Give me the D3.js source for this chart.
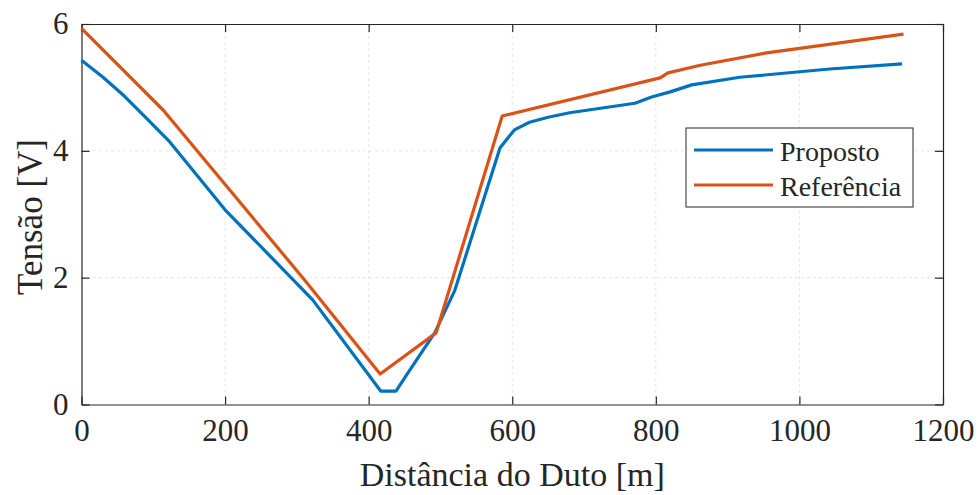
<!DOCTYPE html>
<html>
<head>
<meta charset="utf-8">
<script src="https://cdn.jsdelivr.net/npm/d3@7"></script>
<style>
  body { margin: 0; background: #fff; }
  text { font-family: "Liberation Serif", "Times New Roman", serif; fill: #262626; }
</style>
</head>
<body>
<svg id="chart" width="978" height="495"></svg>
<script>
// Proposto (blue)
var prop_x = [0, 30, 60, 90, 123, 200, 322, 417, 438, 457, 492, 520, 583, 603, 624, 650, 680, 771, 794, 820, 850, 917, 1042, 1143];
var prop_y = [5.43, 5.16, 4.86, 4.52, 4.14, 3.07, 1.65, 0.21, 0.21, 0.54, 1.13, 1.80, 4.05, 4.33, 4.45, 4.53, 4.60, 4.75, 4.85, 4.93, 5.04, 5.16, 5.29, 5.37];
// Referencia (orange)
var ref_x = [0, 114, 311, 416, 494, 586, 806, 817, 862, 952, 1145];
var ref_y = [5.93, 4.64, 1.96, 0.48, 1.13, 4.55, 5.15, 5.23, 5.35, 5.54, 5.84];

var x_ticks = [0, 200, 400, 600, 800, 1000, 1200];
var y_ticks = [0, 2, 4, 6];
var series_names = ["Proposto", "Referência"];
var series_colors = ["#0072BD", "#D95319"];

var svg = d3.select("#chart"),
    margin = {top: 24, left: 81.5, bottom: 90.5, right: 35},
    width = +svg.attr("width"),
    height = +svg.attr("height");

var x = d3.scaleLinear().domain([0, 1200]).range([margin.left, width - margin.right]);
var y = d3.scaleLinear().domain([0, 6]).range([height - margin.bottom, margin.top]);

// grid
var grid = svg.append("g").attr("stroke", "#d9d9d9").attr("stroke-dasharray", "2,4").attr("stroke-width", 1);
x_ticks.slice(1, -1).forEach(function(t){
    grid.append("line").attr("x1", x(t)).attr("x2", x(t)).attr("y1", y(0)).attr("y2", y(6));
});
y_ticks.slice(1, -1).forEach(function(t){
    grid.append("line").attr("x1", x(0)).attr("x2", x(1200)).attr("y1", y(t)).attr("y2", y(t));
});

// axes (ticks inward, box)
var fmt = d3.format("d");
svg.append("g").attr("transform", `translate(0,${y(0)})`)
    .call(d3.axisBottom(x).tickValues(x_ticks).tickFormat(fmt).tickSize(-8).tickPadding(14).tickSizeOuter(0))
    .call(g => g.selectAll("text").style("font-size", "31px").attr("fill", "#262626").style("font-family", "Liberation Serif"));
svg.append("g").attr("transform", `translate(0,${y(6)})`)
    .call(d3.axisTop(x).tickValues(x_ticks).tickSize(-8).tickFormat("").tickSizeOuter(0));
svg.append("g").attr("transform", `translate(${x(0)},0)`)
    .call(d3.axisLeft(y).tickValues(y_ticks).tickFormat(fmt).tickSize(-8).tickPadding(13).tickSizeOuter(0))
    .call(g => g.selectAll("text").style("font-size", "31px").attr("fill", "#262626").style("font-family", "Liberation Serif"));
svg.append("g").attr("transform", `translate(${x(1200)},0)`)
    .call(d3.axisRight(y).tickValues(y_ticks).tickSize(-8).tickFormat("").tickSizeOuter(0));
svg.selectAll(".domain, .tick line").attr("stroke", "#262626").attr("stroke-width", 1.2);

// lines
var line = d3.line().x(d => x(d[0])).y(d => y(d[1]));
var series = [d3.zip(prop_x, prop_y), d3.zip(ref_x, ref_y)];
svg.append("g").selectAll("path").data(series).enter().append("path")
    .attr("d", line).attr("fill", "none")
    .attr("stroke", (d, i) => series_colors[i]).attr("stroke-width", 3.2)
    .attr("stroke-linejoin", "round");

// labels
svg.append("text").attr("x", x(600)).attr("y", 486).attr("text-anchor", "middle")
    .style("font-size", "34px").text("Distância do Duto [m]");
svg.append("text").attr("transform", `translate(42,217) rotate(-90)`).attr("text-anchor", "middle")
    .style("font-size", "35px").text("Tensão [V]");

// legend
var legend = svg.append("g");
legend.append("rect").attr("x", 686).attr("y", 128).attr("width", 227).attr("height", 79)
    .attr("fill", "#fff").attr("stroke", "#262626").attr("stroke-width", 1);
series_names.forEach(function(name, i){
    var ly = 150 + i * 35;
    legend.append("line").attr("x1", 694).attr("x2", 773).attr("y1", ly).attr("y2", ly)
        .attr("stroke", series_colors[i]).attr("stroke-width", 3.2);
    legend.append("text").attr("x", 780).attr("y", ly + 11).style("font-size", "28px").attr("fill", "#000").text(name);
});
</script>
</body>
</html>
